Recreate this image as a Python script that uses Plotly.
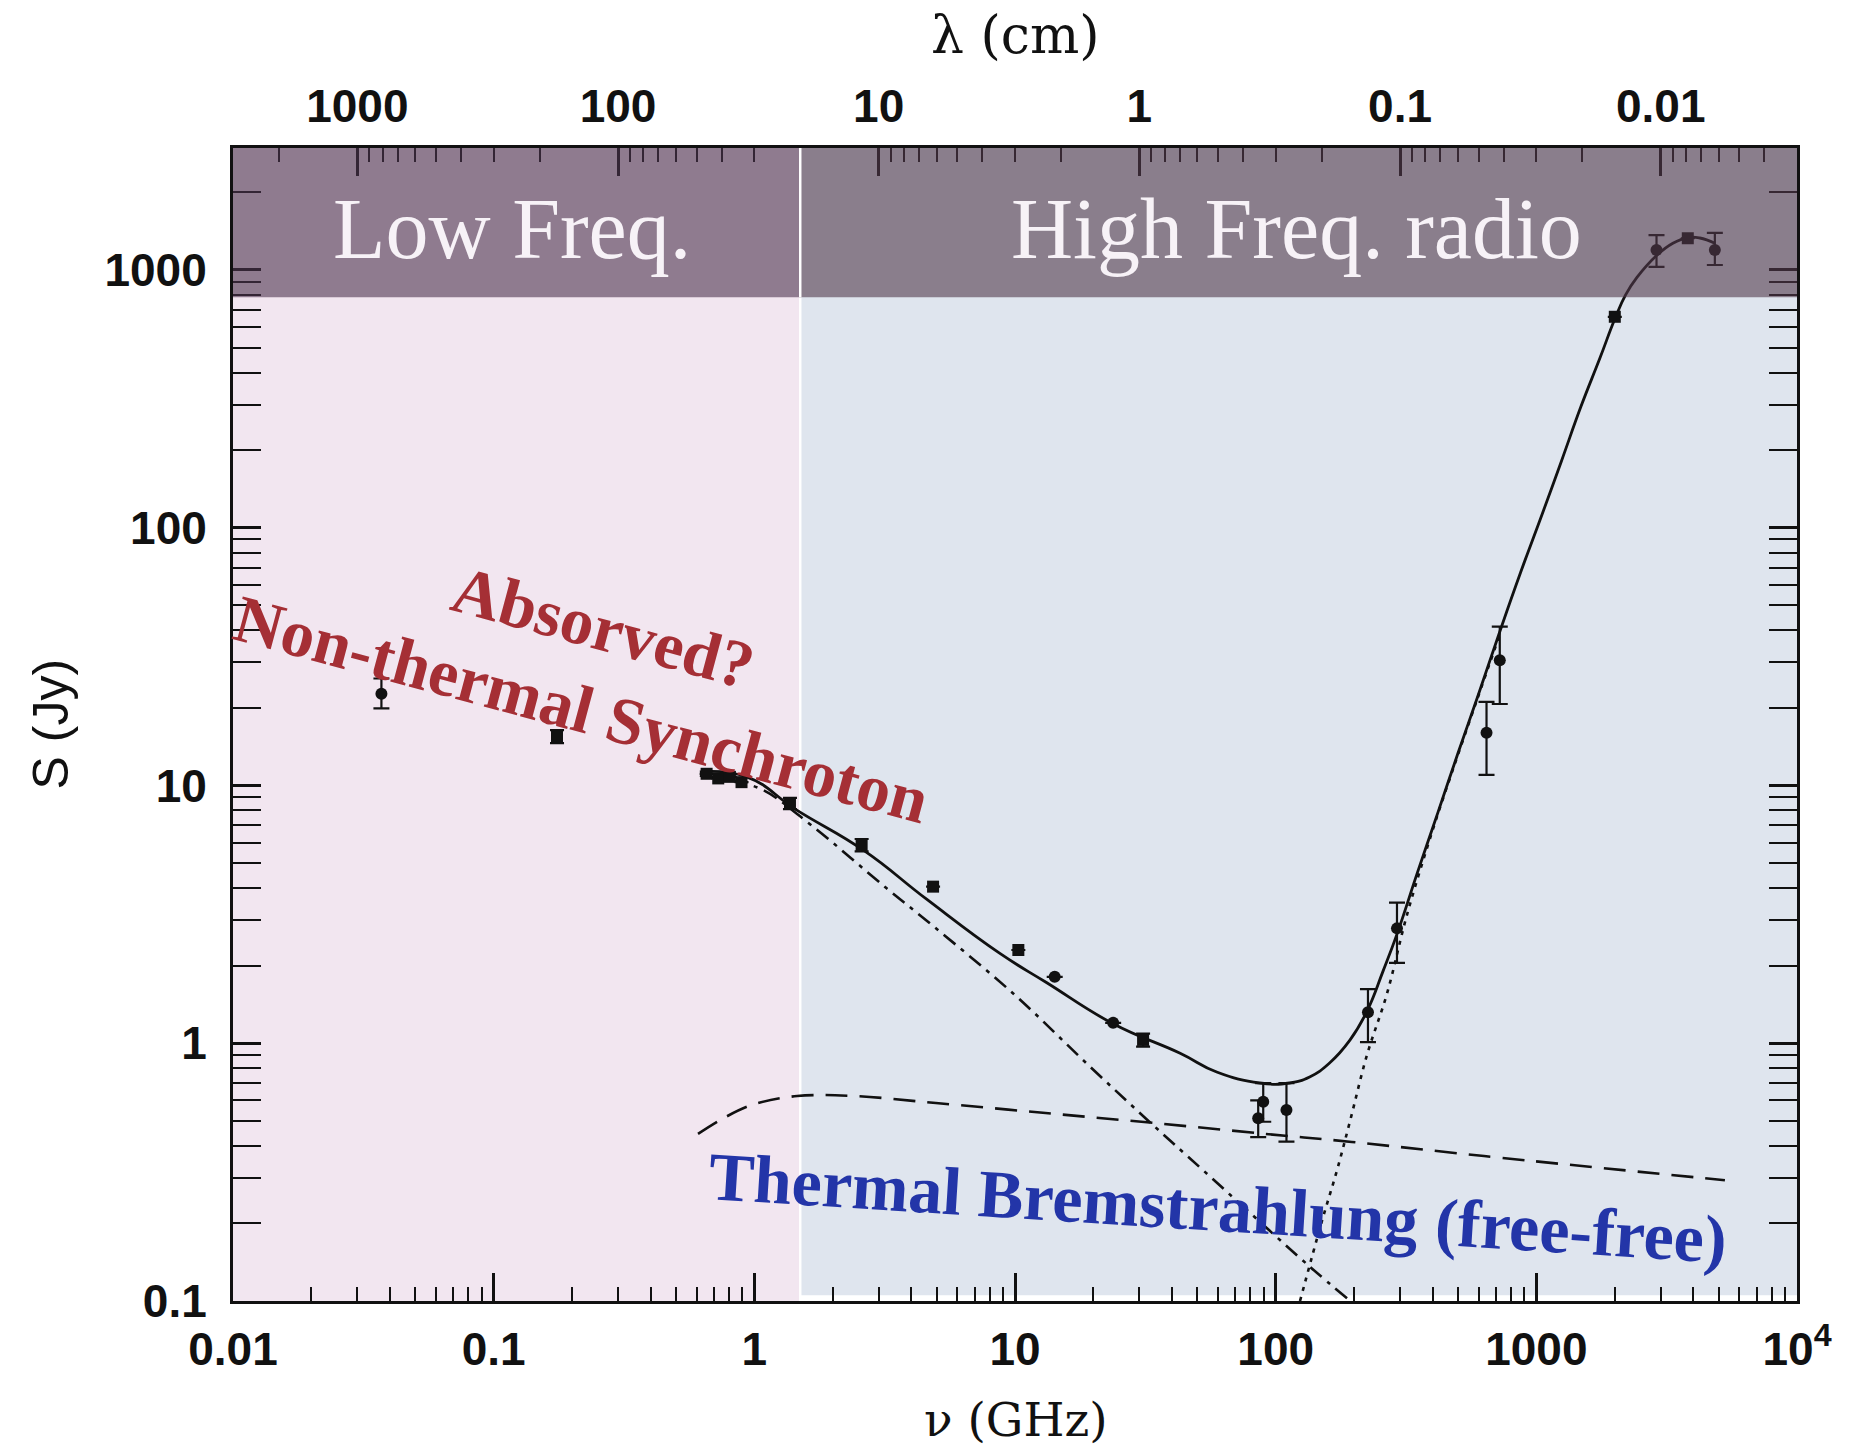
import math
import plotly.graph_objects as go

# ---------------- measured flux densities ----------------
# filled circles (frequency in GHz, flux in Jy, error-bar limits; None = no bar)
nu_circle = [0.0371, 14.2, 23.8, 85.7, 89.6, 110, 226, 292, 644, 724, 2891, 4840]
s_circle = [22.7, 1.81, 1.20, 0.512, 0.593, 0.551, 1.32, 2.79, 16.0, 30.6, 1194, 1194]
s_circle_hi = [26.0, None, None, 0.60, 0.70, 0.70, 1.62, 3.51, 21.1, 41.3, 1365, 1393]
s_circle_lo = [19.9, None, None, 0.432, 0.496, 0.415, 1.01, 2.05, 11.0, 20.7, 1028, 1045]

# filled squares
nu_square = [0.175, 0.656, 0.727, 0.806, 0.893, 1.37, 2.58, 4.85, 10.3, 31.0, 2000, 3811]
s_square = [15.5, 11.1, 10.65, 10.8, 10.3, 8.53, 5.88, 4.05, 2.30, 1.03, 658, 1327]
s_square_hi = [16.4, None, None, None, None, 8.95, 6.2, None, None, 1.09, None, None]
s_square_lo = [14.6, None, None, None, None, 8.1, 5.55, None, None, 0.97, None, None]

# ---------------- model components ----------------
# total model (solid)
nu_total = [0.618, 0.934, 1.45, 2.62, 4.58, 8.75, 13.2, 23.8, 43.0, 59.4, 86.9, 113,
            135, 161, 193, 224, 258, 292, 350, 420, 500, 600, 724, 870, 1050, 1250,
            1483, 1754, 2000, 2200, 2432, 2900, 3340, 3810, 4240, 4840]
s_total = [11.3, 10.8, 8.04, 5.61, 3.62, 2.23, 1.72, 1.19, 0.914, 0.773, 0.701, 0.701,
           0.740, 0.838, 1.03, 1.33, 1.90, 2.65, 4.6, 7.9, 13.3, 22.6, 39.5, 67, 112,
           182, 295, 455, 645, 800, 935, 1140, 1268, 1335, 1330, 1270]

# non-thermal synchrotron (dash-dot)
nu_sync = [0.618, 0.80, 1.08, 1.68, 3.21, 4.85, 9.84, 19.4, 32.9, 52.6, 134, 191]
s_sync = [10.9, 10.5, 9.6, 6.92, 4.0, 2.85, 1.56, 0.811, 0.494, 0.322, 0.137, 0.101]

# thermal free-free (dashed)
nu_ff = [0.608, 0.764, 0.988, 1.46, 2.43, 4.97, 13.1, 34.5, 91, 196, 630, 5290]
s_ff = [0.445, 0.513, 0.578, 0.624, 0.624, 0.586, 0.536, 0.490, 0.445, 0.414, 0.365, 0.294]

# thermal dust (dotted)
nu_dust = [124, 150, 172, 193, 224, 267, 319, 400, 478, 592, 724]
s_dust = [0.100, 0.202, 0.322, 0.50, 0.90, 1.55, 3.15, 6.7, 11.5, 21.5, 38.5]

# ---------------- axis ticks ----------------
nu_ticks = [0.01, 0.1, 1, 10, 100, 1000, 10000]
nu_tick_text = ["0.01", "0.1", "1", "10", "100", "1000", "10<sup>4</sup>"]
s_ticks = [0.1, 1, 10, 100, 1000]
s_tick_text = ["0.1", "1", "10", "100", "1000"]
lam_ticks = [1000, 100, 10, 1, 0.1, 0.01]          # wavelength in cm
lam_tick_text = ["1000", "100", "10", "1", "0.1", "0.01"]
C_CM_GHZ = 30.0                                     # lambda[cm] = 30 / nu[GHz]

NU_MIN, NU_MAX = 0.01, 1e4
S_LOG_RANGE = [-1, 3.473]
NU_SPLIT = 1.5   # GHz, boundary between the two shaded bands
S_BAND = 784     # Jy, lower edge of the header band

BLACK = "#111111"


def err_plus(vals, hi):
    return [None if h is None else h - v for v, h in zip(vals, hi)]


def err_minus(vals, lo):
    return [None if l is None else v - l for v, l in zip(vals, lo)]


def minor_values(lo_exp, hi_exp):
    return [m * 10 ** e for e in range(lo_exp, hi_exp) for m in range(2, 10)]


lam_minor_nu = [C_CM_GHZ / lam for lam in minor_values(-3, 4)
                if NU_MIN <= C_CM_GHZ / lam <= NU_MAX]

fig = go.Figure()

# model curves
fig.add_trace(go.Scatter(x=nu_ff, y=s_ff, mode="lines", line_shape="spline",
                         line=dict(color=BLACK, width=2.6, dash="22px,12px"),
                         hoverinfo="skip"))
fig.add_trace(go.Scatter(x=nu_sync, y=s_sync, mode="lines", line_shape="spline",
                         line=dict(color=BLACK, width=2.6, dash="15px,7px,4px,7px"),
                         hoverinfo="skip"))
fig.add_trace(go.Scatter(x=nu_dust, y=s_dust, mode="lines", line_shape="spline",
                         line=dict(color=BLACK, width=2.6, dash="4px,6px"),
                         hoverinfo="skip"))
fig.add_trace(go.Scatter(x=nu_total, y=s_total, mode="lines", line_shape="spline",
                         line=dict(color=BLACK, width=2.8, smoothing=1.3),
                         hoverinfo="skip"))

# measurements
fig.add_trace(go.Scatter(
    x=nu_circle, y=s_circle, mode="markers",
    marker=dict(symbol="circle", size=12, color=BLACK),
    error_y=dict(type="data", symmetric=False,
                 array=err_plus(s_circle, s_circle_hi),
                 arrayminus=err_minus(s_circle, s_circle_lo),
                 color=BLACK, thickness=2.2, width=8),
    hoverinfo="skip"))
fig.add_trace(go.Scatter(
    x=nu_square, y=s_square, mode="markers",
    marker=dict(symbol="square", size=12, color=BLACK),
    error_y=dict(type="data", symmetric=False,
                 array=err_plus(s_square, s_square_hi),
                 arrayminus=err_minus(s_square, s_square_lo),
                 color=BLACK, thickness=2.2, width=7),
    hoverinfo="skip"))

# carrier for the wavelength axis along the top
fig.add_trace(go.Scatter(x=[NU_MIN, NU_MAX], y=[None, None], xaxis="x2", yaxis="y",
                         mode="lines", hoverinfo="skip"))

band_frac = (math.log10(S_BAND) - S_LOG_RANGE[0]) / (S_LOG_RANGE[1] - S_LOG_RANGE[0])

shapes = [
    dict(type="rect", xref="x", yref="paper", x0=NU_MIN, x1=NU_SPLIT, y0=0, y1=1,
         fillcolor="#F2E6F0", line=dict(width=0), layer="below"),
    dict(type="rect", xref="x", yref="paper", x0=NU_SPLIT, x1=NU_MAX, y0=0.005, y1=1,
         fillcolor="#DFE5EE", line=dict(width=0), layer="below"),
    dict(type="line", xref="x", yref="paper", x0=NU_SPLIT, x1=NU_SPLIT, y0=0,
         y1=band_frac, line=dict(color="white", width=2.5), layer="below"),
    dict(type="rect", xref="x", yref="paper", x0=NU_MIN, x1=NU_SPLIT, y0=band_frac,
         y1=1, fillcolor="rgba(77,52,78,0.6)", line=dict(width=0), layer="above"),
    dict(type="rect", xref="x", yref="paper", x0=NU_SPLIT, x1=NU_MAX, y0=band_frac,
         y1=1, fillcolor="rgba(81,56,75,0.6)", line=dict(width=0), layer="above"),
    dict(type="line", xref="x", yref="paper", x0=NU_SPLIT, x1=NU_SPLIT, y0=band_frac,
         y1=1, line=dict(color="white", width=2.5), layer="above"),
]

tick_font = dict(family="Liberation Sans, Arial, sans-serif", size=46, color=BLACK,
                 weight="bold")
axis_common = dict(type="log", showgrid=False, zeroline=False, showline=True,
                   linecolor=BLACK, linewidth=3, ticks="inside", ticklen=28,
                   tickwidth=2.5, tickcolor=BLACK, tickfont=tick_font)
minor_common = dict(ticks="inside", ticklen=14, tickwidth=2, tickcolor=BLACK,
                    showgrid=False)

fig.update_layout(
    width=1854, height=1446,
    margin=dict(l=233, r=57, t=148, b=145),
    paper_bgcolor="white", plot_bgcolor="white",
    showlegend=False,
    shapes=shapes,
    xaxis=dict(axis_common, range=[-2, 4], tickmode="array", tickvals=nu_ticks,
               ticktext=nu_tick_text, mirror=False, ticklabelstandoff=6,
               minor=dict(minor_common, tickvals=minor_values(-2, 4))),
    xaxis2=dict(axis_common, range=[-2, 4], overlaying="x", side="top", anchor="y",
                tickmode="array", tickvals=[C_CM_GHZ / l for l in lam_ticks],
                ticktext=lam_tick_text, ticklabelstandoff=5,
                minor=dict(minor_common, tickvals=lam_minor_nu)),
    yaxis=dict(axis_common, range=S_LOG_RANGE, tickmode="array", tickvals=s_ticks,
               ticktext=s_tick_text, mirror="allticks", ticklabelstandoff=14,
               minor=dict(minor_common, tickvals=minor_values(-1, 4))),
)


def label(text, x, y, font, angle=0, xshift=0, yshift=0):
    fig.add_annotation(text=text, xref="paper", yref="paper", x=x, y=y,
                       xanchor="center", yanchor="middle", xshift=xshift,
                       yshift=yshift, textangle=angle, showarrow=False, font=font)


# axis titles
label("λ (cm)", 0.5, 1.0, dict(family="DejaVu Serif", size=52, color=BLACK),
      yshift=113)
label("ν (GHz)", 0.5, 0.0, dict(family="DejaVu Serif", size=47, color=BLACK),
      yshift=-118)
label("S (Jy)", 0.0, 0.5,
      dict(family="Liberation Sans, Arial, sans-serif", size=50, color=BLACK),
      angle=-90, xshift=-183)

# band labels
band_font = dict(family="Liberation Serif, serif", size=86, color="#F7F2F7")
label("Low Freq.", 0.1784, 0.930, band_font)
label("High Freq. radio", 0.680, 0.930, band_font)

# component labels
red_font = dict(family="Liberation Serif, serif", size=67, color="#A52F35",
                weight="bold")
label("Absorved?", 0.2366, 0.5846, red_font, angle=15)
label("Non-thermal Synchroton", 0.2231, 0.5134, red_font, angle=15)
label("Thermal Bremstrahlung (free-free)", 0.6298, 0.0807,
      dict(family="Liberation Serif, serif", size=68, color="#2335A8", weight="bold"),
      angle=3.6)

fig.write_html("out.html")
